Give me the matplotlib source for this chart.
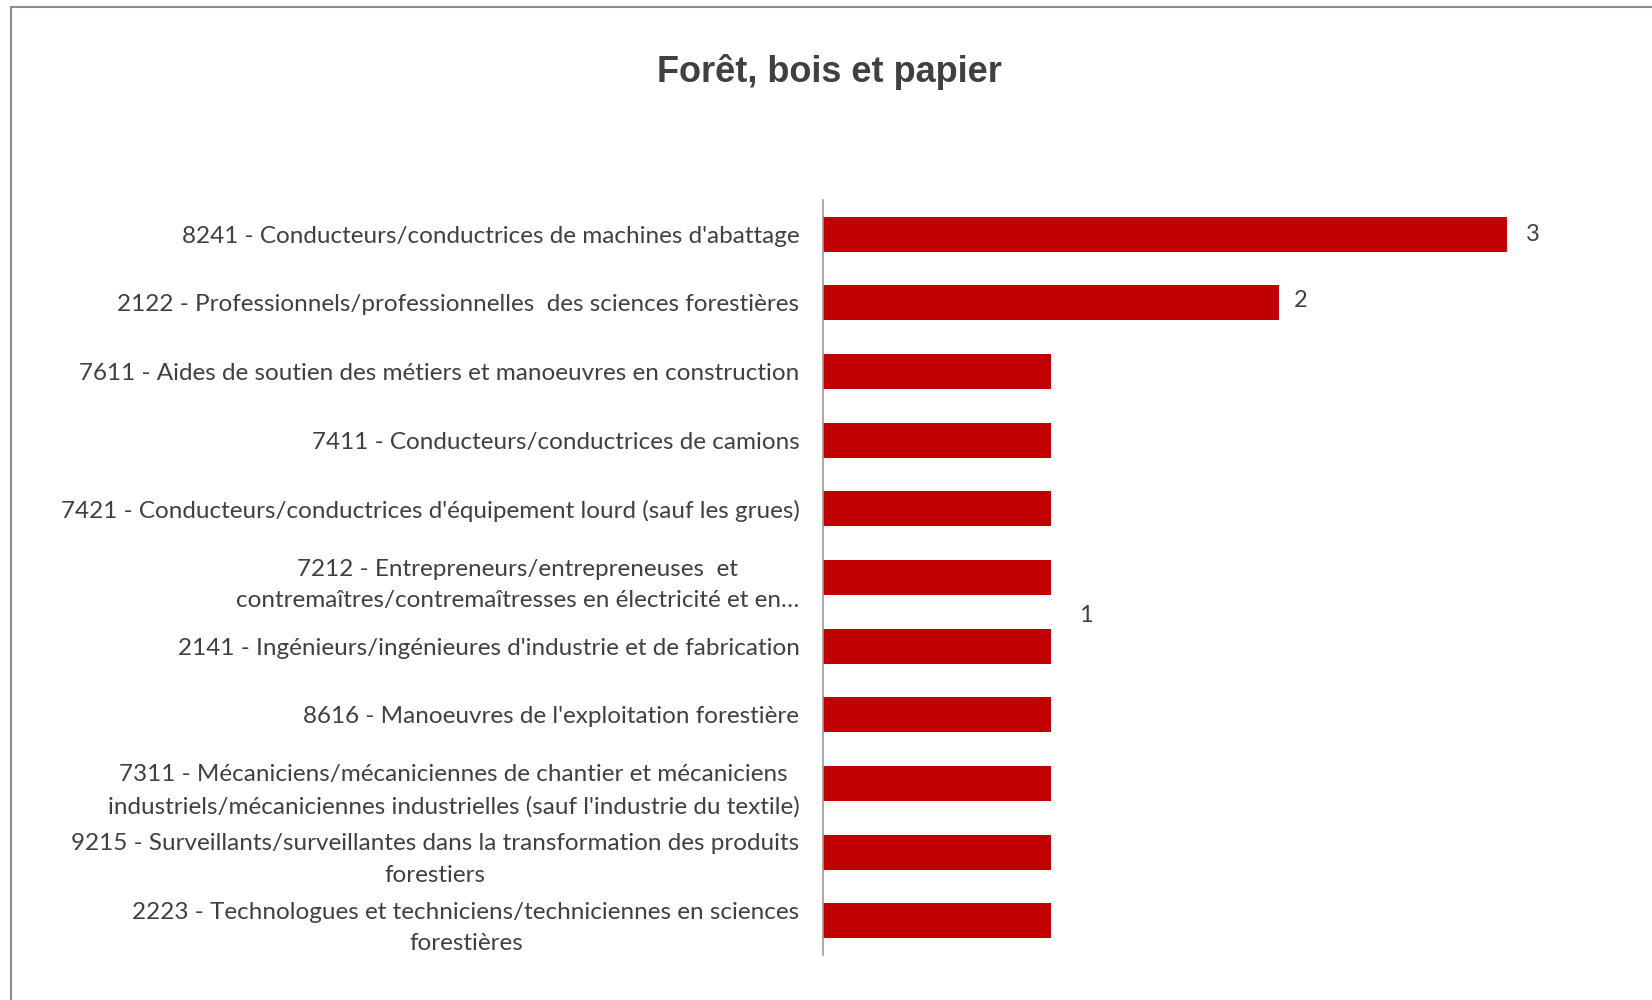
import matplotlib.pyplot as plt
from matplotlib.patches import Rectangle

# Data
labels = [
    "8241 - Conducteurs/conductrices de machines d'abattage",
    "2122 - Professionnels/professionnelles  des sciences forestières",
    "7611 - Aides de soutien des métiers et manoeuvres en construction",
    "7411 - Conducteurs/conductrices de camions",
    "7421 - Conducteurs/conductrices d'équipement lourd (sauf les grues)",
    "7212 - Entrepreneurs/entrepreneuses  et\ncontremaîtres/contremaîtresses en électricité et en…",
    "2141 - Ingénieurs/ingénieures d'industrie et de fabrication",
    "8616 - Manoeuvres de l'exploitation forestière",
    "7311 - Mécaniciens/mécaniciennes de chantier et mécaniciens\nindustriels/mécaniciennes industrielles (sauf l'industrie du textile)",
    "9215 - Surveillants/surveillantes dans la transformation des produits\nforestiers",
    "2223 - Technologues et techniciens/techniciennes en sciences\nforestières",
]
values = [3, 2, 1, 1, 1, 1, 1, 1, 1, 1, 1]
# Excel shows the label "1" once, between the bars
shown_labels = [(3, 0), (2, 0.96), (1, 5.56)]
label_offsets = [14, 11, 20]

text_col = '#404040'
bar_col = '#C00000'

fig = plt.figure(figsize=(16.52, 10), dpi=100)
fig.patch.set_facecolor('white')
ax = fig.add_axes([0.4982, 0.045, 0.4828, 0.755])

y = range(len(labels))
ax.barh(y, values, height=0.51, color=bar_col)
ax.set_xlim(0, 3.5)
ax.set_ylim(len(labels) - 0.5, -0.5)

ax.set_yticks(list(y))
ax.set_yticklabels(labels, family='Lato', fontsize=17.5, color=text_col,
                   multialignment='center', linespacing=1.62)
ax.tick_params(axis='y', length=0, pad=17)
ax.set_xticks([])
for s in ['top', 'right', 'bottom']:
    ax.spines[s].set_visible(False)
ax.spines['left'].set_color('#999999')
ax.spines['left'].set_linewidth(1.2)

for (v, pos), off in zip(shown_labels, label_offsets):
    ax.annotate(str(v), xy=(v, pos), xytext=(off, 0), textcoords='offset points',
                ha='left', va='center', family='Lato', fontsize=17, color=text_col)

fig.text(0.502, 0.928, 'Forêt, bois et papier', ha='center', va='center',
         family='Liberation Sans', fontweight='bold', fontsize=26, color=text_col)

# chart frame (cut at right and bottom)
fig.patches.append(Rectangle((0.0066, -0.05), 1.2, 1.043, transform=fig.transFigure,
                             fill=False, edgecolor='#8c8c8c', linewidth=1.5))

fig.savefig('out.png', dpi=100)
